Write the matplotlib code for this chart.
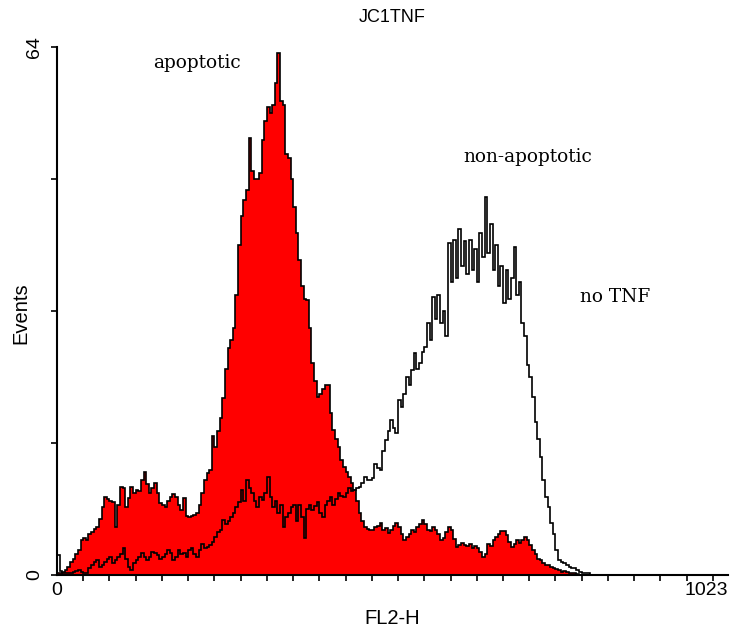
import numpy as np
import matplotlib
matplotlib.use("Agg")
import matplotlib.pyplot as plt

# ---- data: FL2-H histogram, counts per 4-channel bin ----
bin_width = 4
tnf_counts = [
    0.3, 0.2, 0.4, 0.6, 1.0, 1.6, 2.0, 2.6, 3.0, 4.2,
    4.5, 4.3, 5.0, 5.2, 5.6, 5.8, 6.8, 8.3, 9.5, 9.2,
    9.0, 8.8, 5.8, 8.5, 10.7, 10.5, 8.2, 9.3, 10.7, 10.0,
    10.3, 10.2, 11.5, 12.5, 11.0, 9.9, 10.5, 11.1, 10.0, 8.7,
    8.5, 8.2, 9.0, 9.5, 9.8, 9.4, 8.5, 7.9, 9.3, 7.2,
    7.0, 7.2, 7.3, 7.5, 8.5, 10.0, 11.5, 12.4, 12.7, 16.8,
    15.5, 17.5, 19.0, 21.5, 25.0, 27.5, 28.5, 30.0, 34.0, 40.0,
    43.5, 45.5, 46.7, 53.0, 49.0, 48.0, 48.0, 48.7, 52.7, 55.0,
    56.7, 56.0, 57.0, 59.6, 63.3, 57.5, 57.0, 51.0, 50.5, 48.0,
    44.6, 41.4, 38.2, 35.0, 33.5, 33.3, 30.0, 25.7, 23.5, 21.6,
    22.0, 22.5, 23.0, 23.0, 19.6, 17.6, 16.5, 15.5, 14.0, 13.1,
    12.5, 11.9, 11.2, 10.3, 9.0, 7.5, 6.5, 5.8, 5.6, 5.5,
    5.5, 5.8, 6.0, 6.3, 5.5, 5.7, 5.1, 5.5, 6.0, 6.3,
    5.8, 5.0, 4.2, 4.6, 5.0, 5.5, 5.2, 5.8, 6.2, 6.7,
    6.2, 5.5, 5.3, 5.8, 5.5, 5.0, 4.2, 4.5, 5.2, 5.8,
    5.5, 4.4, 3.4, 3.6, 3.9, 3.6, 3.5, 3.8, 3.3, 3.5,
    3.3, 2.8, 2.2, 2.6, 3.8, 3.5, 4.2, 4.6, 5.0, 5.3,
    5.3, 4.8, 4.0, 3.4, 3.8, 4.2, 3.9, 4.2, 4.6, 4.2,
    3.6, 3.0, 2.5, 2.0, 1.8, 1.5, 1.2, 1.2, 1.0, 0.8,
    0.7, 0.6, 0.4, 0.5, 0.4, 0.3, 0.2, 0.2, 0.1, 0.0,
]
notnf_counts = [
    2.4, 0.5, 0.3, 0.3, 0.2, 0.3, 0.4, 0.5, 0.6, 0.4,
    0.3, 0.3, 0.8, 1.2, 1.6, 1.8, 1.0, 1.2, 1.6, 2.0,
    2.2, 1.5, 1.8, 2.2, 2.6, 3.3, 2.0, 1.0, 0.6, 1.5,
    1.8, 2.2, 2.7, 2.2, 1.8, 2.2, 2.8, 2.7, 2.4, 1.9,
    2.2, 2.6, 3.0, 2.7, 1.8, 2.2, 3.0, 2.6, 2.7, 2.2,
    3.0, 3.3, 2.6, 2.2, 3.0, 3.8, 3.3, 3.4, 3.6, 4.0,
    4.6, 5.2, 5.5, 6.7, 6.2, 6.6, 7.0, 7.5, 8.2, 8.8,
    10.3, 9.0, 11.5, 10.5, 10.0, 9.0, 8.2, 9.5, 9.1, 10.0,
    11.9, 9.5, 8.2, 9.0, 7.5, 8.5, 5.8, 7.0, 7.5, 8.2,
    8.5, 6.5, 8.5, 7.0, 4.5, 8.0, 8.5, 7.9, 8.4, 8.8,
    7.5, 7.0, 8.5, 9.0, 9.5, 8.5, 9.2, 10.0, 9.6, 9.5,
    10.0, 10.5, 10.2, 10.3, 10.5, 10.7, 11.2, 11.9, 11.5, 11.5,
    11.8, 13.5, 13.0, 12.7, 15.0, 16.4, 17.5, 18.8, 17.8, 17.2,
    21.2, 20.4, 22.0, 24.0, 23.0, 24.8, 26.9, 25.0, 25.7, 27.0,
    27.6, 30.5, 28.5, 33.7, 31.0, 34.0, 30.5, 32.0, 29.0, 40.2,
    35.5, 40.6, 36.0, 42.0, 37.5, 40.5, 36.5, 40.6, 37.0, 39.5,
    35.5, 41.4, 38.5, 45.8, 39.0, 42.5, 37.0, 40.0, 35.0, 37.5,
    33.0, 37.0, 33.5, 36.0, 39.8, 34.0, 35.5, 30.5, 29.0, 25.5,
    24.0, 21.6, 18.5, 16.5, 14.3, 11.5, 9.5, 8.2, 6.3, 5.0,
    3.0, 1.8, 1.6, 1.4, 1.2, 1.0, 0.9, 0.8, 0.6, 0.4,
    0.3, 0.2, 0.2, 0.0,
]
title = "JC1TNF"
x_label = "FL2-H"
y_label = "Events"
x_range = (0, 1023)
y_range = (0, 64)
annotations = [("apoptotic", 213, 62.1), ("non-apoptotic", 718, 50.7), ("no TNF", 851, 33.7)]

W, H = 730, 629
fig = plt.figure(figsize=(W / 100, H / 100), dpi=100)
ax = fig.add_axes([57 / W, 1 - 575 / H, (728 - 57) / W, (575 - 47) / H])

tnf = np.array(tnf_counts)
notnf = np.array(notnf_counts)
edges_tnf = np.arange(len(tnf) + 1) * bin_width
edges_no = np.arange(len(notnf) + 1) * bin_width

ax.stairs(tnf, edges_tnf, fill=True, color="#ff0000", zorder=2)
ax.stairs(tnf, edges_tnf, color="black", lw=1.2, zorder=3)
ax.stairs(notnf, edges_no, color="black", lw=1.2, zorder=4)

ax.set_xlim(*x_range)
ax.set_ylim(*y_range)
for s in ("top", "right"):
    ax.spines[s].set_visible(False)
for s in ("left", "bottom"):
    ax.spines[s].set_linewidth(1.5)
    ax.spines[s].set_color("black")

# ticks
ax.set_xticks(np.arange(0, 1001, 40), minor=True)
ax.set_xticks([0, 1023])
ax.set_xticklabels(["0", "1023"])
ax.set_yticks([0, 16, 32, 48, 64])
ax.set_yticklabels(["0", "", "", "", "64"], rotation=90, va="center")
ax.tick_params(axis="x", which="both", direction="out", length=4, width=1.2, pad=5,
               labelsize=14)
ax.tick_params(axis="x", which="major", length=0)
ax.tick_params(axis="y", direction="out", length=4, width=1.2, pad=6, labelsize=14)
for lab in ax.get_xticklabels() + ax.get_yticklabels():
    lab.set_fontfamily("Liberation Sans")
ax.get_xticklabels()[1].set_horizontalalignment("right")

fig.text(392 / W, 1 - 18 / H, title, ha="center", va="center", fontsize=13,
         family="Liberation Sans")
fig.text(392 / W, 1 - 618 / H, x_label, ha="center", va="center", fontsize=14.5,
         family="Liberation Sans")
fig.text(21 / W, 1 - 313 / H, y_label, ha="center", va="center", fontsize=14.5,
         rotation=90, family="Liberation Sans")

for txt, xx, yy in annotations:
    ax.text(xx, yy, txt, ha="center", va="center", fontsize=13.3,
            family="DejaVu Serif", zorder=5)

fig.savefig("out.png", dpi=100)
